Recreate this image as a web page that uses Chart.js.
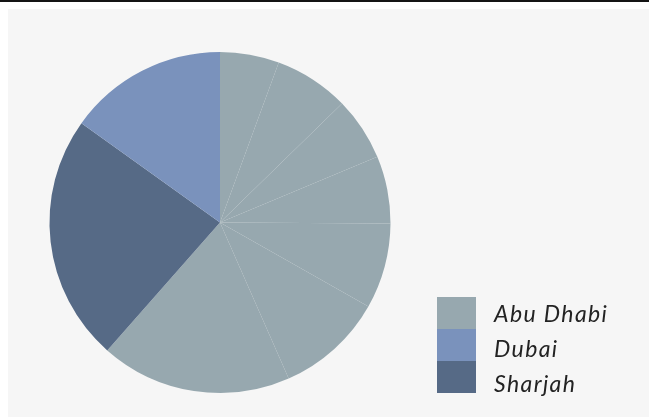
<!DOCTYPE html>
<html>
<head>
<meta charset="utf-8">
<script src="https://cdn.jsdelivr.net/npm/chart.js@4/dist/chart.umd.min.js"></script>
<style>
  html, body { margin: 0; padding: 0; background: #ffffff; }
  body { width: 649px; height: 417px; position: relative; overflow: hidden; }
  #rule { position: absolute; left: 0; top: 0; width: 649px; height: 2px; background: #141414; }
  #panel { position: absolute; left: 8px; top: 9px; width: 641px; height: 408px; background: #f6f6f6; }
  #chart { position: absolute; left: 0; top: 0; }
</style>
</head>
<body>
<div id="rule"></div>
<div id="panel"><canvas id="chart" width="641" height="408"></canvas></div>
<script>
// Legend entries and their colours
const regions = ['Abu Dhabi', 'Dubai', 'Sharjah'];
const regionColors = ['#97a8af', '#7a92bc', '#566a86'];

// Slices, clockwise from 12 o'clock: the region each belongs to and its share (%)
const sliceRegions = ['Abu Dhabi', 'Abu Dhabi', 'Abu Dhabi', 'Abu Dhabi', 'Abu Dhabi',
                      'Abu Dhabi', 'Abu Dhabi', 'Sharjah', 'Dubai'];
const sliceValues = [5.6, 7.1, 6.0, 6.4, 8.1, 10.2, 18.1, 23.4, 15.1];

const sliceColors = sliceRegions.map(r => regionColors[regions.indexOf(r)]);

// Stacked colour-block legend drawn in the lower right
const blockLegend = {
  id: 'blockLegend',
  afterDraw(chart) {
    const ctx = chart.ctx;
    const x = 429, top = 288, boxW = 39, boxH = 32;
    const textX = 486, textTop = 312.7, textStep = 35;
    ctx.save();
    ctx.font = 'italic 23px Lato';
    ctx.letterSpacing = '1.4px';
    ctx.textBaseline = 'alphabetic';
    ctx.textAlign = 'left';
    regions.forEach((name, i) => {
      ctx.fillStyle = regionColors[i];
      ctx.fillRect(x, top + i * boxH, boxW, boxH);
      ctx.fillStyle = '#232323';
      ctx.fillText(name, textX, textTop + i * textStep);
    });
    ctx.restore();
  }
};

new Chart(document.getElementById('chart'), {
  type: 'pie',
  data: {
    labels: sliceRegions,
    datasets: [{
      data: sliceValues,
      backgroundColor: sliceColors,
      borderWidth: 0,
      hoverOffset: 0,
      offset: 0
    }]
  },
  options: {
    responsive: false,
    animation: false,
    events: [],
    layout: { padding: { left: 41.5, right: 258.5, top: 43, bottom: 24 } },
    plugins: {
      legend: { display: false },
      tooltip: { enabled: false }
    }
  },
  plugins: [blockLegend]
});
</script>
</body>
</html>
